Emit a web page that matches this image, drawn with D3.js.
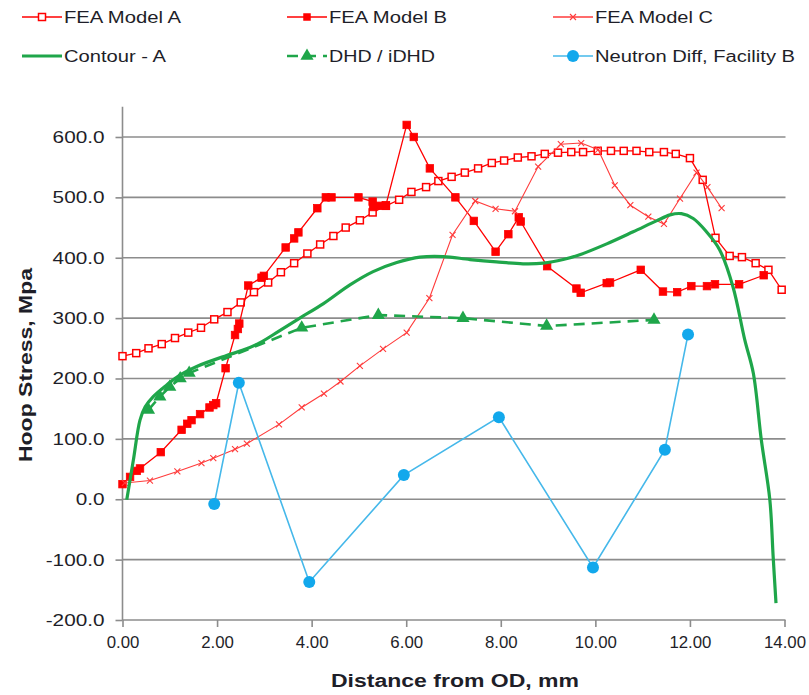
<!DOCTYPE html>
<html><head><meta charset="utf-8">
<script src="https://cdn.jsdelivr.net/npm/d3@7"></script>
<style>
body{margin:0;background:#fff}
svg{display:block}
text{font-family:"Liberation Sans",Arial,sans-serif}
</style>
</head><body>
<svg id="c" width="809" height="695"></svg>
<script>
// ---------------- data ----------------
const xTicks = [0,2,4,6,8,10,12,14];
const yTicks = [-200,-100,0,100,200,300,400,500,600];
const seriesNames = ["FEA Model A","FEA Model B","FEA Model C","Contour - A","DHD / iDHD","Neutron Diff, Facility B"];

const feaA = [[0,237],[0.29,242],[0.55,250],[0.83,257],[1.11,267],[1.39,276],[1.66,284],[1.94,298],[2.22,310],[2.50,326],[2.78,343],[3.08,359],[3.35,376],[3.63,391],[3.91,407],[4.18,422],[4.46,436],[4.72,450],[5.02,462],[5.29,475],[5.57,486],[5.85,496],[6.11,509],[6.42,517],[6.68,527],[6.96,534],[7.24,541],[7.52,548],[7.81,557],[8.07,561],[8.36,566],[8.65,568],[8.93,572],[9.21,574],[9.49,575],[9.74,575],[10.05,577],[10.33,577],[10.60,577],[10.87,577],[11.14,575],[11.45,575],[11.70,572],[12.0,565],[12.27,529],[12.54,433],[12.84,403],[13.10,401],[13.39,391],[13.66,380],[13.94,347]];

const feaB = [[0,25],[0.16,37],[0.30,47],[0.37,51],[0.81,78],[1.25,115],[1.37,125],[1.46,131],[1.64,141],[1.84,152],[1.92,156],[1.98,159],[2.18,217],[2.38,272],[2.44,282],[2.47,291],[2.66,354],[2.94,367],[2.99,370],[3.45,417],[3.63,432],[3.72,442],[4.12,482],[4.30,500],[4.42,500],[4.99,500],[5.29,493],[5.30,484],[5.44,486],[5.57,487],[6.01,620],[6.16,600],[6.50,548],[7.04,500],[7.43,461],[7.89,410],[8.16,439],[8.38,467],[8.42,460],[8.98,386],[9.60,349],[9.69,342],[10.24,358],[10.31,359],[10.96,380],[11.43,344],[11.73,343],[12.03,353],[12.36,353],[12.53,356],[13.04,356],[13.56,371]];

const feaC = [[0.05,27],[0.58,31],[1.16,46],[1.67,60],[1.92,68],[2.38,83],[2.63,92],[3.31,124],[3.79,152],[4.26,175],[4.61,195],[5.02,221],[5.51,249],[6.01,276],[6.49,333],[6.98,438],[7.46,494],[7.89,481],[8.30,477],[8.79,551],[9.27,588],[9.70,590],[10.06,579],[10.41,520],[10.74,487],[11.12,468],[11.45,456],[11.79,498],[12.14,541],[12.37,517],[12.67,482]];

const contourA = [[0.09,-1],[0.23,65],[0.37,131],[0.48,153],[0.65,170],[0.93,189],[1.22,206],[1.57,220],[2.2,238],[2.55,247],[2.9,259],[3.3,278],[3.75,300],[4.25,324],[4.81,355],[5.30,377],[5.80,392],[6.29,401],[6.78,402],[7.35,397],[7.91,393],[8.47,390],[8.90,391],[9.32,397],[9.67,405],[10.24,423],[10.80,443],[11.29,461],[11.58,471],[11.82,473],[12.07,465],[12.35,443],[12.63,413],[12.91,352],[13.16,264],[13.34,209],[13.51,98],[13.69,-1],[13.76,-95],[13.82,-172]];

const dhd = [[0.55,148],[0.79,170],[1.0,186],[1.22,200],[1.41,209],[3.79,284],[5.41,305],[7.2,300],[8.97,287],[11.24,297]];

const neutron = [[1.94,-8],[2.46,193],[3.95,-137],[5.95,40],[7.96,136],[9.95,-113],[11.47,82],[11.96,273]];

// ---------------- layout ----------------
const svg = d3.select("#c");
const X0 = 122.5, X1 = 784.5, Y0 = 620, Y1 = 106.8;
const x = d3.scaleLinear().domain([0,14]).range([X0,X1]);
const y = d3.scaleLinear().domain([-200,650]).range([Y0,Y1]);

const RED = "#ff0000", REDC = "#ff3b3b", GREEN = "#1fa64a", BLUE = "#45b8ea", BLUEM = "#12a8ec";
const GRID = "#8c8c8c", TXT = "#1e1e28";
const fmtY = d => d3.format(".1f")(d).replace("\u2212","-");

// grid lines
svg.append("g").selectAll("line").data(yTicks.filter(d=>d>-200)).join("line")
  .attr("x1",X0).attr("x2",X1+1).attr("y1",d=>y(d)).attr("y2",d=>y(d))
  .attr("stroke",GRID).attr("stroke-width",1.6);

// y axis
const yAxis = svg.append("g").attr("transform",`translate(${X0},0)`)
  .call(d3.axisLeft(y).tickValues(yTicks).tickSize(7).tickPadding(11).tickFormat(fmtY));
yAxis.select(".domain").attr("stroke",GRID).attr("stroke-width",1.6).attr("d",`M0,${Y1}V${Y0}`);
yAxis.selectAll(".tick line").attr("stroke",GRID).attr("stroke-width",1.6);
yAxis.selectAll(".tick text").attr("fill",TXT).style("font-size","17px").attr("font-family",null)
  .each(function(){ const L=this.getComputedTextLength(); d3.select(this).attr("textLength",L*1.22).attr("lengthAdjust","spacingAndGlyphs"); });

// x axis
const xAxis = svg.append("g").attr("transform",`translate(0,${Y0})`)
  .call(d3.axisBottom(x).tickValues(xTicks).tickSize(7).tickPadding(10).tickFormat(d3.format(".2f")));
xAxis.select(".domain").attr("stroke",GRID).attr("stroke-width",1.6).attr("d",`M${X0},0H${X1+1}`);
xAxis.selectAll(".tick line").attr("stroke",GRID).attr("stroke-width",1.6);
xAxis.selectAll(".tick text").attr("fill",TXT).style("font-size","16px").attr("font-family",null)
  .each(function(){ const L=this.getComputedTextLength(); d3.select(this).attr("textLength",L*1.05).attr("lengthAdjust","spacingAndGlyphs"); });

// axis titles
svg.append("text").attr("x",455).attr("y",687).attr("text-anchor","middle")
  .attr("fill",TXT).style("font-size","18px").style("font-weight","bold")
  .attr("textLength",248).attr("lengthAdjust","spacingAndGlyphs").text("Distance from OD, mm");
svg.append("text").attr("transform","translate(32,365) rotate(-90)").attr("text-anchor","middle")
  .attr("fill",TXT).style("font-size","18px").style("font-weight","bold")
  .attr("textLength",194).attr("lengthAdjust","spacingAndGlyphs").text("Hoop Stress, Mpa");

// ---------------- series ----------------
const line = d3.line().x(d=>x(d[0])).y(d=>y(d[1]));
const smooth = d3.line().x(d=>x(d[0])).y(d=>y(d[1])).curve(d3.curveCatmullRom.alpha(0.5));
const plot = svg.append("g");

function squareMarks(g, data, filled, s){
  g.selectAll(null).data(data).join("rect")
    .attr("x",d=>x(d[0])-s/2).attr("y",d=>y(d[1])-s/2).attr("width",s).attr("height",s)
    .attr("fill",filled?RED:"#fff").attr("stroke",RED).attr("stroke-width",filled?0.8:1.5);
}

// FEA A
plot.append("path").datum(feaA).attr("d",line).attr("fill","none").attr("stroke",RED).attr("stroke-width",1.3);
squareMarks(plot.append("g"), feaA, false, 7);
// FEA B
plot.append("path").datum(feaB).attr("d",line).attr("fill","none").attr("stroke",RED).attr("stroke-width",1.3);
squareMarks(plot.append("g"), feaB, true, 7.5);
// FEA C
plot.append("path").datum(feaC).attr("d",line).attr("fill","none").attr("stroke",REDC).attr("stroke-width",1.1);
plot.append("g").selectAll(null).data(feaC).join("path")
  .attr("transform",d=>`translate(${x(d[0])},${y(d[1])})`)
  .attr("d","M-3,-3L3,3M-3,3L3,-3").attr("stroke",REDC).attr("stroke-width",1.1);
// Contour
plot.append("path").datum(contourA).attr("d",smooth).attr("fill","none").attr("stroke",GREEN).attr("stroke-width",3.2).attr("stroke-linejoin","round");
// DHD
plot.append("path").datum(dhd).attr("d",line).attr("fill","none").attr("stroke",GREEN).attr("stroke-width",2.6).attr("stroke-dasharray","11,7");
const tri = d3.symbol().type(d3.symbolTriangle).size(75);
plot.append("g").selectAll(null).data(dhd).join("path")
  .attr("transform",d=>`translate(${x(d[0])},${y(d[1])})`).attr("d",tri).attr("fill",GREEN);
// Neutron
plot.append("path").datum(neutron).attr("d",line).attr("fill","none").attr("stroke",BLUE).attr("stroke-width",1.6);
plot.append("g").selectAll(null).data(neutron).join("circle")
  .attr("cx",d=>x(d[0])).attr("cy",d=>y(d[1])).attr("r",6).attr("fill",BLUEM);

// ---------------- legend ----------------
const legCols = [22, 287, 553];
const legRows = [17, 56];
const legWidths = [117,118,118,102,106,200];
const lg = svg.append("g");
seriesNames.forEach((name,i)=>{
  const cx = legCols[i%3], cy = legRows[Math.floor(i/3)];
  const g = lg.append("g").attr("transform",`translate(${cx},${cy})`);
  const w = 40, m = w/2;
  if(i<3){
    g.append("line").attr("x1",0).attr("x2",w).attr("stroke",i==2?REDC:RED).attr("stroke-width",1.6);
    if(i==0) g.append("rect").attr("x",m-3.5).attr("y",-3.5).attr("width",7).attr("height",7).attr("fill","#fff").attr("stroke",RED).attr("stroke-width",1.5);
    if(i==1) g.append("rect").attr("x",m-3.75).attr("y",-3.75).attr("width",7.5).attr("height",7.5).attr("fill",RED);
    if(i==2) g.append("path").attr("d",`M${m-3},-3L${m+3},3M${m-3},3L${m+3},-3`).attr("stroke",REDC).attr("stroke-width",1.1);
  } else if(i==3){
    g.append("line").attr("x1",0).attr("x2",w).attr("stroke",GREEN).attr("stroke-width",3.2);
  } else if(i==4){
    g.append("line").attr("x1",0).attr("x2",w).attr("stroke",GREEN).attr("stroke-width",2.6).attr("stroke-dasharray","11,7");
    g.append("path").attr("transform",`translate(${m},0)`).attr("d",tri).attr("fill",GREEN);
  } else {
    g.append("line").attr("x1",0).attr("x2",w).attr("stroke",BLUE).attr("stroke-width",1.6);
    g.append("circle").attr("cx",m).attr("r",6).attr("fill",BLUEM);
  }
  g.append("text").attr("x",w+2).attr("dy","0.36em").attr("fill",TXT).style("font-size","16px")
    .attr("textLength",legWidths[i]).attr("lengthAdjust","spacingAndGlyphs").text(name);
});
</script>
</body></html>
